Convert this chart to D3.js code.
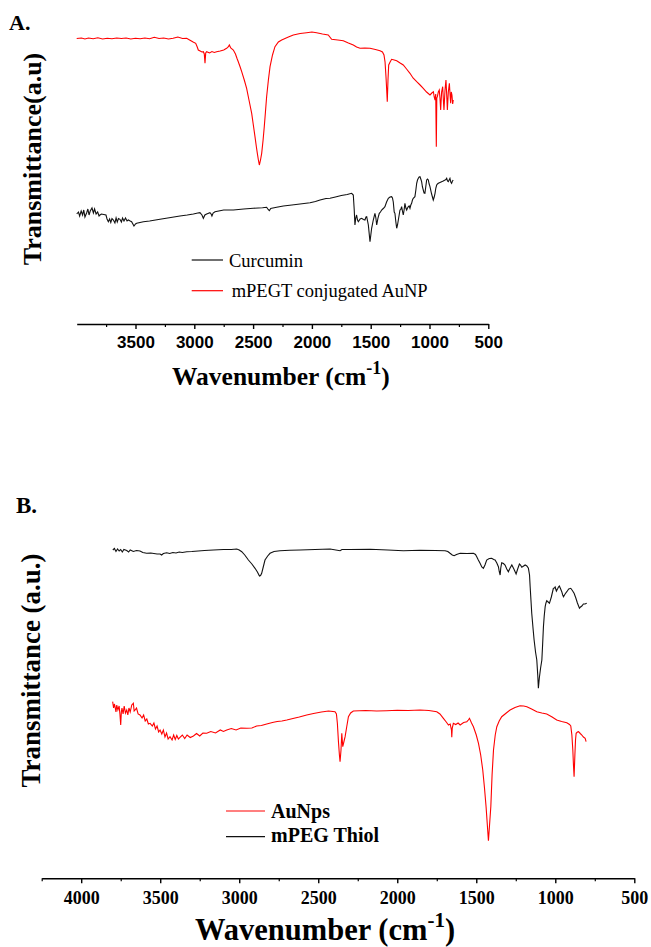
<!DOCTYPE html>
<html>
<head>
<meta charset="utf-8">
<script src="https://cdn.jsdelivr.net/npm/d3@7"></script>
<style>
  html, body { margin: 0; padding: 0; background: #fff; }
  svg { display: block; }
</style>
</head>
<body>
<svg id="chart" width="651" height="947"></svg>
<script>
// ---------- DATA ----------
// Panel A tick labels (major) and minor ticks
const ticksA = [3500, 3000, 2500, 2000, 1500, 1000, 500];
const minorA = [3750, 3250, 2750, 2250, 1750, 1250, 750];
// Panel B tick labels (major) and minor ticks
const ticksB = [4000, 3500, 3000, 2500, 2000, 1500, 1000, 500];
const minorB = [4250, 3750, 3250, 2750, 2250, 1750, 1250, 750];

const legendA = ["Curcumin", "mPEGT conjugated AuNP"];
const legendB = ["AuNps", "mPEG Thiol"];

// Panel A: mPEGT conjugated AuNP (red) [wavenumber, transmittance a.u.]
const mpegtAuNP = [[4000,291.5],[3960,292],[3930,291],[3900,292],[3860,291.3],[3820,292.2],[3780,291],[3740,291.8],[3700,291.2],[3660,292],[3620,291.5],[3580,292],[3540,291],[3500,291.7],[3460,291.2],[3420,292],[3380,291.3],[3340,292.8],[3300,291.5],[3260,292],[3220,291],[3180,291.8],[3140,293],[3100,291.5],[3065,291.7],[3040,290],[3010,288],[2988,286.7],[2975,283],[2966,280],[2950,279],[2935,278],[2923,278.3],[2915,276],[2909,266.7],[2903,277],[2895,278.3],[2870,277],[2850,278.5],[2830,277.5],[2810,278.3],[2780,279],[2750,280],[2725,281.7],[2712,283],[2702,285],[2690,282],[2668,280],[2650,276],[2635,271],[2626,268.3],[2610,263],[2597,258.3],[2575,250],[2555,241.7],[2535,230],[2512,216.7],[2498,205],[2484,193.3],[2472,183],[2464,176.7],[2455,170],[2447,165],[2437,170],[2427,176.7],[2415,190],[2405,203.3],[2395,218],[2385,233.3],[2370,250],[2356,263.3],[2335,275],[2314,283.3],[2285,288],[2257,290],[2200,293],[2158,295],[2100,296.5],[2045,297.3],[2000,298],[1960,297.3],[1910,296],[1861,295],[1832,290.7],[1780,290],[1733,289.3],[1690,287],[1648,285],[1620,283],[1591,281.7],[1550,282],[1506,281.7],[1460,280.5],[1421,279.3],[1400,278],[1387,275],[1378,268],[1370,253.3],[1364,240],[1359,228.3],[1353,250],[1347,265],[1335,268],[1322,270.7],[1300,270],[1279,269.3],[1250,267],[1223,265],[1195,261],[1166,256.7],[1140,252],[1109,248.3],[1080,245],[1053,241.7],[1025,238],[996,235],[980,237],[967,238.3],[960,233],[953,230],[947,236],[942,183.3],[938,232],[933,233.3],[925,238],[917,240],[911,232],[905,220],[897,238],[888,243.3],[882,230],[877,220],[868,240],[860,250],[854,236],[848,220],[840,238],[831,246.7],[825,235],[820,226.7],[815,238],[809,235],[803,226],[798,230]];

// Panel A: Curcumin (black)
const curcumin = [[4000,116],[3985,118],[3975,114],[3962,119],[3950,115],[3940,120],[3930,113],[3915,117.3],[3905,121],[3895,115],[3885,119],[3870,122],[3858,117],[3848,121],[3835,116],[3822,118],[3810,114],[3802,115],[3790,116],[3770,115.5],[3751,115],[3742,111],[3731,108.3],[3720,111],[3710,107.5],[3700,111.5],[3688,110],[3675,107],[3665,112],[3655,108],[3645,111.5],[3632,110.7],[3620,108],[3610,112],[3598,109],[3585,112],[3572,109],[3561,110],[3545,109],[3533,108.3],[3520,105.5],[3513,104],[3500,106],[3490,106.7],[3433,108.3],[3380,109],[3292,110.7],[3200,112.5],[3122,114],[3060,115],[3008,116],[2970,117],[2952,117.3],[2935,115],[2923,111.7],[2910,115],[2895,116],[2867,117.3],[2857,116],[2850,114],[2840,117],[2824,118.3],[2750,120],[2668,120],[2580,121],[2498,121.7],[2420,122.3],[2385,122.7],[2372,120.5],[2362,119.3],[2350,121.5],[2342,121.7],[2300,122.7],[2243,124],[2170,125],[2101,126],[2016,127.3],[1970,128.5],[1931,130],[1880,131.5],[1846,131.7],[1800,133],[1750,134.5],[1700,135.5],[1662,136.7],[1648,135],[1640,120],[1634,105],[1627,112],[1620,115],[1612,110],[1605,108.3],[1590,111],[1577,111.7],[1562,110.5],[1549,110],[1540,113],[1534,113.3],[1520,105],[1506,88.3],[1499,95],[1492,101.7],[1478,110],[1464,116.7],[1456,112],[1449,105],[1438,112],[1427,116.7],[1417,118],[1407,120],[1393,121.5],[1379,123.3],[1365,128],[1350,131.7],[1336,133],[1322,133.3],[1315,132],[1308,128],[1300,118],[1294,116.7],[1286,108],[1279,101.7],[1272,105],[1265,110],[1258,115],[1251,120],[1244,120.5],[1237,123.3],[1230,119],[1223,115],[1216,120],[1209,126.7],[1201,122],[1194,120],[1187,122],[1180,123.3],[1173,124],[1166,121.7],[1159,125],[1152,126.7],[1145,130],[1138,131.7],[1124,133.3],[1116,140],[1109,146.7],[1102,150],[1095,151.7],[1088,153],[1081,153.3],[1074,151],[1067,148.3],[1060,143],[1053,140],[1046,137],[1039,136.7],[1032,143],[1024,150],[1017,151],[1010,150],[1003,146],[996,143.3],[982,136],[968,130],[960,133],[953,136.7],[946,142],[939,145],[932,146],[925,146.7],[911,147.5],[897,148.3],[883,149],[868,150],[861,150.5],[854,151.7],[847,149],[840,148.3],[833,150],[826,151.7],[819,148],[812,146.7],[805,149],[798,150]];

// Panel B: mPEG Thiol (black)
const mpegThiol = [[3800,350],[3790,351.5],[3780,348.5],[3770,351],[3760,349],[3750,350.5],[3740,348],[3730,350.5],[3712,349.5],[3700,348],[3690,350],[3670,348.5],[3650,349.5],[3628,349],[3610,347.5],[3586,346.7],[3560,347],[3540,346.5],[3520,346],[3501,346],[3491,345],[3480,346.5],[3459,347.3],[3440,346.5],[3420,347.5],[3400,347],[3380,348],[3360,347.5],[3332,348.3],[3300,348.5],[3260,349],[3220,349.5],[3163,350],[3100,350.5],[3050,350.5],[3016,351],[3000,350],[2984,348.3],[2965,345],[2942,340],[2920,336],[2900,331.7],[2885,328],[2872,324],[2865,324.5],[2858,326.7],[2848,333],[2837,340],[2820,344],[2805,346.7],[2780,348.5],[2742,349.3],[2680,349.8],[2615,350],[2520,350.5],[2425,351],[2362,349.3],[2350,350.5],[2300,350.5],[2172,350.7],[2060,350],[1961,349.3],[1856,349.7],[1760,349.5],[1697,349.3],[1680,348.5],[1666,346.7],[1652,345],[1640,344.3],[1625,345.5],[1602,346.7],[1560,346.5],[1518,346.7],[1505,345.5],[1497,343.3],[1487,340],[1476,336.7],[1465,333],[1455,331.7],[1445,335],[1434,340],[1418,341.5],[1402,341.7],[1390,340.5],[1381,340],[1370,337],[1360,333.3],[1354,328],[1349,325],[1345,332],[1339,337.3],[1328,336.5],[1318,335],[1307,331],[1297,328.3],[1286,332],[1275,335],[1262,331],[1248,326],[1238,331],[1227,336],[1220,335],[1212,332.7],[1200,334],[1191,335],[1180,334],[1170,331.7],[1163,325],[1159,313.3],[1154,300],[1149,286.7],[1141,272],[1134,260],[1125,248],[1117,240],[1111,225],[1107,211.7],[1101,222],[1093,232],[1085,240],[1080,256],[1075,273.3],[1070,284],[1064,293.3],[1059,297],[1054,299.3],[1045,298],[1037,296.7],[1025,303],[1012,311.7],[1006,312],[1001,313],[993,309],[986,311],[980,313],[974,314],[966,311],[959,308.3],[953,305],[948,303.3],[938,306],[927,308.3],[915,311],[902,311.7],[892,309.5],[881,306.7],[870,302],[860,297],[847,291.7],[840,293],[832,294],[822,296],[812,296],[801,296.7]];

// Panel B: AuNps (red)
const auNps = [[3801,198.3],[3795,192],[3790,196],[3786,193.3],[3780,188],[3775,195],[3768,190],[3760,194],[3755,186],[3750,175],[3746,188],[3742,192],[3735,186],[3728,194],[3720,187],[3712,190],[3705,185],[3698,192],[3690,188],[3680,195],[3670,196.7],[3665,189],[3659,190],[3650,192],[3640,186],[3628,185],[3615,182],[3605,185],[3595,179],[3585,181],[3575,176],[3564,176.7],[3550,174],[3540,177],[3530,171],[3520,174],[3510,168],[3501,170],[3490,166],[3480,170],[3470,163],[3460,167],[3450,161],[3438,163.3],[3425,160],[3415,165],[3405,160.5],[3395,164.5],[3385,161],[3375,162.7],[3360,165],[3345,161.5],[3330,165],[3310,162.5],[3290,164],[3270,166.5],[3250,164],[3230,167],[3206,166.7],[3180,168.5],[3150,167],[3120,170],[3100,168.5],[3079,170],[3050,171.5],[3020,170],[2990,172],[2952,171.7],[2920,172],[2890,174],[2860,174.5],[2826,176],[2790,177.5],[2760,178.5],[2730,179],[2699,180],[2660,181.5],[2620,183],[2573,185],[2530,186.5],[2480,188],[2435,189],[2394,188.3],[2385,186],[2379,176.7],[2372,158],[2366,145],[2362,138.3],[2356,150],[2351,166.7],[2348,160],[2345,153.3],[2338,158],[2330,163.3],[2320,173],[2309,183.3],[2295,187],[2278,189],[2200,189.5],[2130,189],[2067,189.3],[2000,189.8],[1930,189.5],[1856,190],[1800,189.5],[1750,188.3],[1730,186],[1708,181.7],[1690,178],[1676,175],[1665,176],[1657,170],[1655,162.7],[1652,172],[1645,176.7],[1630,175.5],[1615,177],[1602,175],[1580,177.5],[1560,178.3],[1550,180],[1543,181.7],[1530,177],[1518,173.3],[1500,165],[1486,156.7],[1472,145],[1459,130],[1448,112],[1438,93.3],[1430,75],[1423,59.3],[1416,75],[1408,93.3],[1400,125],[1391,150],[1380,165],[1370,173.3],[1355,179],[1339,183.3],[1310,187],[1286,190],[1255,192.5],[1223,194.3],[1200,194],[1180,193.3],[1150,191],[1117,188.3],[1085,187],[1054,186],[1020,183],[991,180],[960,178.5],[927,177.3],[910,175.5],[902,174],[895,165],[889,150],[885,135],[881,123.3],[876,145],[872,160],[868,166.7],[860,168],[853,168.3],[842,166.5],[832,165],[822,163],[811,161.7],[805,158.3]];

// ---------- DRAWING ----------
const svg = d3.select("#chart");
const SERIF = "'Liberation Serif', 'Times New Roman', Times, serif";
const SANS = "'Liberation Sans', Arial, Helvetica, sans-serif";
const RED = "#ff0000";
const BLACK = "#111111";

function drawAxis(g, x, axisY, major, minor, labelOffset, font, fsize) {
  const ax = g.append("g").attr("transform", `translate(0,${axisY})`)
    .call(d3.axisBottom(x).tickValues(major).tickSize(5).tickSizeOuter(0).tickFormat(d3.format("d")));
  ax.select(".domain").attr("stroke", "#000").attr("stroke-width", 1.6);
  ax.selectAll(".tick line").attr("stroke", "#000").attr("stroke-width", 1.4);
  ax.selectAll(".tick text")
    .attr("y", labelOffset).attr("dy", 0)
    .attr("fill", "#000")
    .style("font-family", font).style("font-weight", "bold").style("font-size", fsize + "px");
  const mi = g.append("g").attr("transform", `translate(0,${axisY})`)
    .call(d3.axisBottom(x).tickValues(minor).tickSize(3).tickFormat(""));
  mi.select(".domain").remove();
  mi.selectAll(".tick line").attr("stroke", "#000").attr("stroke-width", 1.2);
}

// ----- Panel A -----
const xA = d3.scaleLinear().domain([4000, 500]).range([76.7, 488.3]);
const yA = d3.scaleLinear().domain([0, 300]).range([330, 30]);
const gA = svg.append("g");
const lineA = d3.line().x(d => xA(d[0])).y(d => yA(d[1]));

gA.append("path").datum(mpegtAuNP).attr("d", lineA)
  .attr("fill", "none").attr("stroke", RED).attr("stroke-width", 1.1);
gA.append("path").datum(curcumin).attr("d", lineA)
  .attr("fill", "none").attr("stroke", BLACK).attr("stroke-width", 1.1);

drawAxis(gA, xA, 324, ticksA, minorA, 24, SANS, 17);

gA.append("text").attr("x", 9).attr("y", 30).text("A.")
  .style("font-family", SERIF).style("font-weight", "bold").style("font-size", "22px");

gA.append("text").attr("transform", "translate(41,159) rotate(-90)")
  .attr("text-anchor", "middle").text("Transmittance(a.u)")
  .style("font-family", SERIF).style("font-weight", "bold").style("font-size", "26px");

const xlabA = gA.append("text").attr("x", 172).attr("y", 385)
  .style("font-family", SERIF).style("font-weight", "bold").style("font-size", "25.5px");
xlabA.append("tspan").text("Wavenumber (cm");
xlabA.append("tspan").attr("dy", -11).style("font-size", "18px").text("-1");
xlabA.append("tspan").attr("dy", 11).text(")");

// legend A
const legA = [{t: legendA[0], c: BLACK, y: 260, ty: 266.7, tx: 229},
              {t: legendA[1], c: RED, y: 290.7, ty: 296.7, tx: 231.7}];
legA.forEach(l => {
  gA.append("line").attr("x1", 191.7).attr("x2", 223).attr("y1", l.y).attr("y2", l.y)
    .attr("stroke", l.c).attr("stroke-width", 1.2);
  gA.append("text").attr("x", l.tx).attr("y", l.ty).text(l.t)
    .style("font-family", SERIF).style("font-size", "18.5px");
});

// ----- Panel B -----
const xB = d3.scaleLinear().domain([4250, 500]).range([41.7, 634.3]);
const yB = d3.scaleLinear().domain([0, 400]).range([900, 500]);
const gB = svg.append("g");
const lineB = d3.line().x(d => xB(d[0])).y(d => yB(d[1]));

gB.append("path").datum(mpegThiol).attr("d", lineB)
  .attr("fill", "none").attr("stroke", BLACK).attr("stroke-width", 1.1);
gB.append("path").datum(auNps).attr("d", lineB)
  .attr("fill", "none").attr("stroke", RED).attr("stroke-width", 1.1);

drawAxis(gB, xB, 878.3, ticksB, minorB, 25.7, SERIF, 18);

gB.append("text").attr("x", 16).attr("y", 513).text("B.")
  .style("font-family", SERIF).style("font-weight", "bold").style("font-size", "23px");

gB.append("text").attr("transform", "translate(40,670.5) rotate(-90)")
  .attr("text-anchor", "middle").text("Transmittance (a.u.)")
  .style("font-family", SERIF).style("font-weight", "bold").style("font-size", "27px");

const xlabB = gB.append("text").attr("x", 195).attr("y", 940)
  .style("font-family", SERIF).style("font-weight", "bold").style("font-size", "30.5px");
xlabB.append("tspan").text("Wavenumber (cm");
xlabB.append("tspan").attr("dy", -13).style("font-size", "21px").text("-1");
xlabB.append("tspan").attr("dy", 13).text(")");

// legend B
const legB = [{t: legendB[0], c: RED, y: 811, ty: 818},
              {t: legendB[1], c: BLACK, y: 836.7, ty: 841.7}];
legB.forEach(l => {
  gB.append("line").attr("x1", 226).attr("x2", 265).attr("y1", l.y).attr("y2", l.y)
    .attr("stroke", l.c).attr("stroke-width", 1.2);
  gB.append("text").attr("x", 271).attr("y", l.ty).text(l.t)
    .style("font-family", SERIF).style("font-weight", "bold").style("font-size", "20px");
});
</script>
</body>
</html>
